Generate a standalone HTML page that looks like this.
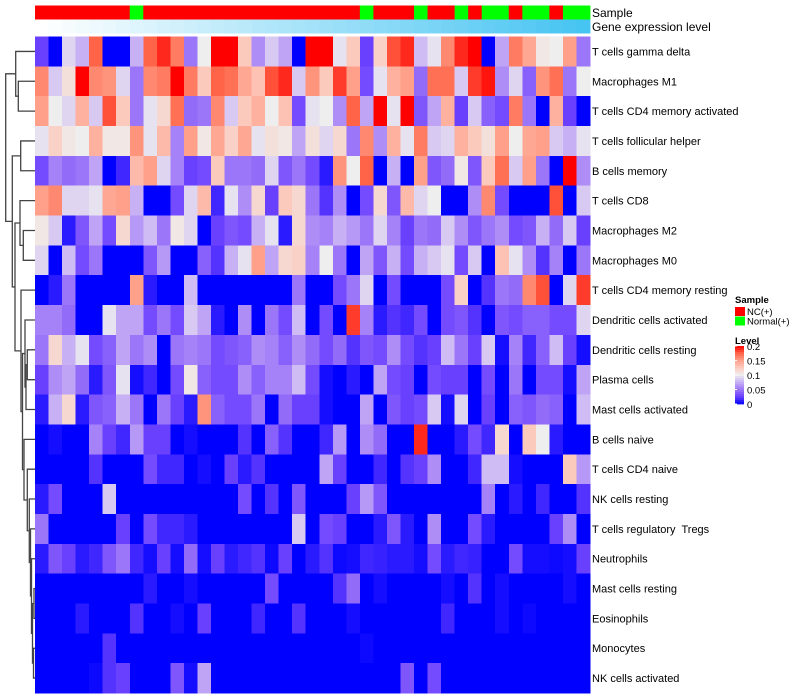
<!DOCTYPE html>
<html>
<head>
<meta charset="utf-8">
<style>
  html,body{margin:0;padding:0;background:#fff;}
  #wrap{position:relative;width:800px;height:700px;overflow:hidden;}
  svg{position:absolute;left:0;top:0;}
  text{font-family:"Liberation Sans",Arial,sans-serif;white-space:pre;}
</style>
</head>
<body>
<div id="wrap">
<svg id="chart" width="800" height="700" viewBox="0 0 800 700"></svg>
</div>
<script>
const rowLabels = ["T cells gamma delta","Macrophages M1","T cells CD4 memory activated","T cells follicular helper","B cells memory","T cells CD8","Macrophages M2","Macrophages M0","T cells CD4 memory resting","Dendritic cells activated","Dendritic cells resting","Plasma cells","Mast cells activated","B cells naive","T cells CD4 naive","NK cells resting","T cells regulatory  Tregs","Neutrophils","Mast cells resting","Eosinophils","Monocytes","NK cells activated"];
const normalColumns = [7,24,28,31,33,34,36,37,39,40];
const geneLevel = [0,.02,.04,.06,.08,.1,.12,.14,.16,.18,.2,.22,.24,.26,.28,.3,.32,.34,.36,.38,.4,.42,.44,.46,.48,.5,.52,.54,.56,.58,.6,.62,.64,.66,.68,.7,.72,.74,.76,.78,.8];
const levelTicks = [0.2,0.15,0.1,0.05,0];
const levelTickLabels = ["0.2","0.15","0.1","0.05","0"];
const r0 = [.025,0,.09,.075,.175,0,0,.075,.175,.19,.165,.05,.1,.2,.2,.125,.06,.085,.07,0,.2,.2,.095,.125,.025,.12,.18,.19,.08,.095,.16,.19,.2,0,.07,.165,.145,.105,.1,.15,.05];
const r1 = [.16,.085,.11,.2,.16,.155,.09,.05,.16,.165,.2,.165,.125,.175,.17,.145,.13,.18,.19,.085,.155,.125,.185,.15,.03,.095,.14,.15,.045,.17,.17,.085,.185,.195,.06,.09,.04,.155,.17,.05,.1];
const r2 = [.15,.1,.09,.14,.085,.18,.125,.05,.095,.115,.17,.045,.05,.16,.085,.125,.14,.1,.13,.03,.095,.1,.06,.175,.07,.2,.095,.2,.035,.07,.14,.025,.085,.04,.03,.165,.05,0,.14,.025,0];
const r3 = [.095,.12,.105,.1,.14,.105,.105,.155,.095,.135,.055,.15,.105,.145,.12,.145,.095,.11,.105,.07,.11,.09,.115,.05,.16,.06,.14,.095,.165,.085,.09,.14,.125,.11,.15,.1,.145,.15,.085,.075,.095];
const r4 = [.03,.055,.045,.05,.07,0,.015,.135,.15,.09,.055,.025,.03,.125,.05,.05,.045,.09,.035,.05,.03,.01,.155,.1,.175,0,.075,0,.15,.035,.045,.105,.035,.125,.17,.085,.15,.05,0,.2,.06];
const r5 = [.15,.16,.09,.09,.095,.145,.15,.075,0,0,.03,.09,.135,.015,.095,.06,.115,.025,.125,.115,.05,.02,.06,0,.03,.115,.035,.135,.09,.1,0,0,.06,.16,.03,0,0,0,.18,0,.085];
const r6 = [.105,.085,.01,.035,.07,.03,.115,.065,.08,.05,.105,.09,0,.025,.035,.03,.075,.095,.01,.115,.06,.055,.075,.065,.05,.09,.055,.025,.05,.045,.085,.06,.035,.05,.06,.03,.035,.075,.045,.085,.025];
const r7 = [.09,0,.08,.03,.05,0,0,0,.035,.065,0,0,.04,.02,.075,.095,.15,.07,.115,.12,.055,.1,.05,0,.07,.035,.075,.03,.075,.085,.095,.03,.085,0,.13,.095,.06,.02,.055,0,.05];
const r8 = [0,.01,.05,0,0,0,0,.15,.01,0,0,.08,0,0,0,0,0,0,0,.05,0,0,.03,.05,.09,0,.03,0,0,0,.03,.12,0,.02,.05,.045,.16,.18,0,.09,.185];
const r9 = [.055,.055,.045,0,0,.095,.07,.07,.03,.05,.03,.085,.07,.01,0,.06,0,.05,.03,.08,0,.03,0,.185,.055,.01,.02,.015,.03,0,.03,.035,.02,0,.035,.03,.04,.04,.03,.03,.09];
const r10 = [.05,.115,.075,.095,.03,.04,.07,.05,.06,0,.05,.055,.05,.03,.035,.04,.06,.055,.04,.06,.045,.03,.045,.02,.035,.03,.06,.03,.02,.025,.08,.05,.025,.085,.005,.055,.015,.04,.08,.025,.005];
const r11 = [.025,.06,.07,.045,.01,.035,.095,.005,.015,0,.03,.105,.04,.03,.03,.06,.04,.055,.055,.08,.03,.005,0,.01,0,.07,.03,.025,0,.03,.025,.025,0,.03,0,.05,0,.03,.03,.005,.07];
const r12 = [.01,.075,.115,.01,.035,.04,.075,.05,0,.05,.025,.01,.155,.04,.03,.03,.05,0,.045,.025,.025,.005,0,0,.07,0,.035,.025,.03,.085,.005,.09,0,.025,0,.04,.035,.045,.04,0,.08];
const r13 = [0,.005,0,0,.055,.025,.015,.065,.025,.025,0,.005,0,0,0,.02,0,.04,.02,0,0,.015,.065,0,.06,.045,0,0,.19,0,0,.01,.03,.015,.115,0,.125,.1,.01,0,0];
const r14 = [0,0,0,0,.02,0,0,0,.03,.015,.015,0,.005,0,.025,.01,.02,0,0,0,0,.07,.025,0,0,.015,0,.02,.025,.06,0,0,.015,.08,.08,.005,0,0,0,.125,.065];
const r15 = [.01,.03,0,0,0,.085,0,0,0,0,0,0,0,0,0,.03,0,.02,0,.035,0,0,0,.025,.065,.035,0,0,0,0,0,0,0,.055,0,.01,0,.015,0,0,.02];
const r16 = [.05,0,0,0,0,0,.025,0,.03,.015,.015,.01,0,0,0,0,0,0,0,.085,0,.03,.025,0,0,.01,.035,.01,0,.06,0,0,.03,.01,0,0,0,0,.025,.06,0];
const r17 = [.01,.035,.025,.01,.015,.035,.05,.015,.005,.025,.005,.045,.005,.025,.01,.015,.02,.003,.025,0,.01,.02,.003,.005,.015,.013,.01,.01,.005,.03,.01,.015,.013,0,0,.03,.005,.005,.003,.005,.025];
const r18 = [0,0,0,0,0,0,0,0,.01,0,0,.005,0,0,0,0,0,.03,0,0,0,0,.02,.045,0,.005,0,0,0,0,.005,0,.02,0,.005,0,0,0,0,.005,0];
const r19 = [0,0,0,.01,0,0,0,.02,0,0,.005,0,.025,0,0,0,.015,0,0,.02,0,0,0,.005,0,0,0,0,0,0,.015,0,0,0,.005,0,.003,0,0,0,0];
const r20 = [0,0,0,0,0,.02,0,0,0,0,0,0,0,0,0,0,0,0,0,0,0,0,0,0,.003,0,0,0,0,0,0,0,0,0,0,0,0,0,0,0,0];
const r21 = [0,0,0,0,.003,.02,.025,0,0,0,.035,.005,.07,0,0,0,0,0,0,0,0,0,0,0,0,0,0,.035,0,.03,0,0,0,0,0,0,0,0,0,0,0];
const matrix = [r0,r1,r2,r3,r4,r5,r6,r7,r8,r9,r10,r11,r12,r13,r14,r15,r16,r17,r18,r19,r20,r21];

const NS = "http://www.w3.org/2000/svg";
const svg = document.getElementById("chart");
const X0 = 35, X1 = 590, Y0 = 36.5, Y1 = 693;
const nCols = r0.length, nRows = matrix.length;
const cw = (X1 - X0) / nCols, ch = (Y1 - Y0) / nRows;
const xPos = c => X0 + c * cw;
const yPos = r => Y0 + r * ch;
const yMid = r => Y0 + (r + 0.5) * ch;

const stops = [[0,[0,0,255]],[.025,[106,64,255]],[.05,[156,118,248]],[.075,[200,176,245]],[.1,[238,238,238]],[.125,[252,202,189]],[.15,[255,160,138]],[.175,[255,100,72]],[.2,[255,0,0]]];
function levelColor(v){
  v = Math.max(0, Math.min(0.2, v));
  for (let i=1;i<stops.length;i++){
    if (v <= stops[i][0]+1e-9){
      const a=stops[i-1], b=stops[i], t=(v-a[0])/(b[0]-a[0]);
      const c=a[1].map((x,k)=>Math.round(x+(b[1][k]-x)*t));
      return "rgb("+c.join(",")+")";
    }
  }
  return "rgb(255,0,0)";
}
function geneColor(v){
  const a=[255,255,255], b=[70,196,242];
  const c=a.map((x,k)=>Math.round(x+(b[k]-x)*Math.min(1,v/0.8)));
  return "rgb("+c.join(",")+")";
}
function mk(tag, attrs, parent){
  const e=document.createElementNS(NS,tag);
  for (const k in attrs) e.setAttribute(k, attrs[k]);
  (parent||svg).appendChild(e);
  return e;
}

const annG = mk("g",{});


for (let c=0;c<nCols;c++){
  const isNormal = normalColumns.indexOf(c) >= 0;
  const s = mk("rect",{x:xPos(c),y:5.5,width:cw+0.4,height:14,fill:isNormal?"#00ff00":"#ff0000"},annG);
  
  
  const g = mk("rect",{x:xPos(c),y:19.5,width:cw+0.4,height:14,fill:geneColor(geneLevel[c])},annG);
  
  
}
const t1 = mk("text",{x:592,y:17,"font-size":12,fill:"#000"});
t1.textContent="Sample";


const t2 = mk("text",{x:592,y:31,"font-size":12,fill:"#000"});
t2.textContent="Gene expression level";



const cellG = mk("g",{"shape-rendering":"crispEdges"});


for (let r=0;r<nRows;r++){
  for (let c=0;c<nCols;c++){
    const rect = mk("rect",{x:xPos(c),y:yPos(r),width:cw+0.5,height:ch+0.5,fill:levelColor(matrix[r][c])},cellG);
    
    
  }
  const lab = mk("text",{x:592,y:yMid(r)+4,"font-size":11,fill:"#000","xml:space":"preserve"});
  lab.textContent = rowLabels[r];
  
  
}

const dG = mk("g",{stroke:"#444","stroke-width":1.3,fill:"none"});


function leaf(i){return {y:yMid(i), x:35};}
function node(x,a,b){
  mk("path",{d:"M"+a.x+" "+a.y+"H"+x+"V"+b.y+"H"+b.x},dG);
  return {x:x,y:(a.y+b.y)/2};
}
const A = node(15.7, leaf(0), node(18.3, leaf(1), leaf(2)));
const B1 = node(20.7, leaf(3), leaf(4));
const B2a = node(20, leaf(5), node(23.3, leaf(6), leaf(7)));
const D1 = node(25, leaf(9), node(26, node(27.3, leaf(10), leaf(11)), leaf(12)));
const I = node(32.5, node(34, leaf(18), leaf(19)), node(33.5, leaf(20), leaf(21)));
const H = node(31.5, leaf(17), I);
const G = node(30.5, leaf(16), H);
const F = node(29.3, leaf(15), G);
const E = node(27.3, leaf(14), F);
const D2 = node(24, leaf(13), E);
const D = node(22.5, D1, D2);
const C = node(21, leaf(8), D);
const B2 = node(15, B2a, C);
const B = node(12.3, B1, B2);
node(5.7, A, B);

const lg = mk("g",{});


const ls = mk("text",{x:735,y:303,"font-size":9.5,"font-weight":"bold"},lg);
ls.textContent="Sample";


const entries=[["NC(+)","#ff0000"],["Normal(+)","#00ff00"]];
entries.forEach((e,i)=>{
  const sw = mk("rect",{x:735,y:307+i*9.5,width:10,height:9,fill:e[1]},lg);
  
  
  const tx = mk("text",{x:747,y:315+i*9.5,"font-size":9.5},lg);
  tx.textContent=e[0];
  
  
});
const ll = mk("text",{x:735,y:344,"font-size":9.5,"font-weight":"bold"},lg);
ll.textContent="Level";


const gTop=346, gBot=404;
const lvY = v => gBot - (v/0.2)*(gBot-gTop);
for (let i=0;i<29;i++){
  const v0 = 0.2 - i*0.2/29;
  const seg = mk("rect",{x:735,y:lvY(v0),width:9,height:(gBot-gTop)/29+0.4,fill:levelColor(v0-0.1/29)},lg);
  
  
}
levelTicks.forEach((v,i)=>{
  const tk = mk("text",{x:747,y:lvY(v)+4,"font-size":9.5},lg);
  tk.textContent=levelTickLabels[i];
  
  
  const tl = mk("line",{x1:735,x2:737,y1:lvY(v),y2:lvY(v),stroke:"#fff","stroke-width":1},lg);
  
  
});
</script>
</body>
</html>
